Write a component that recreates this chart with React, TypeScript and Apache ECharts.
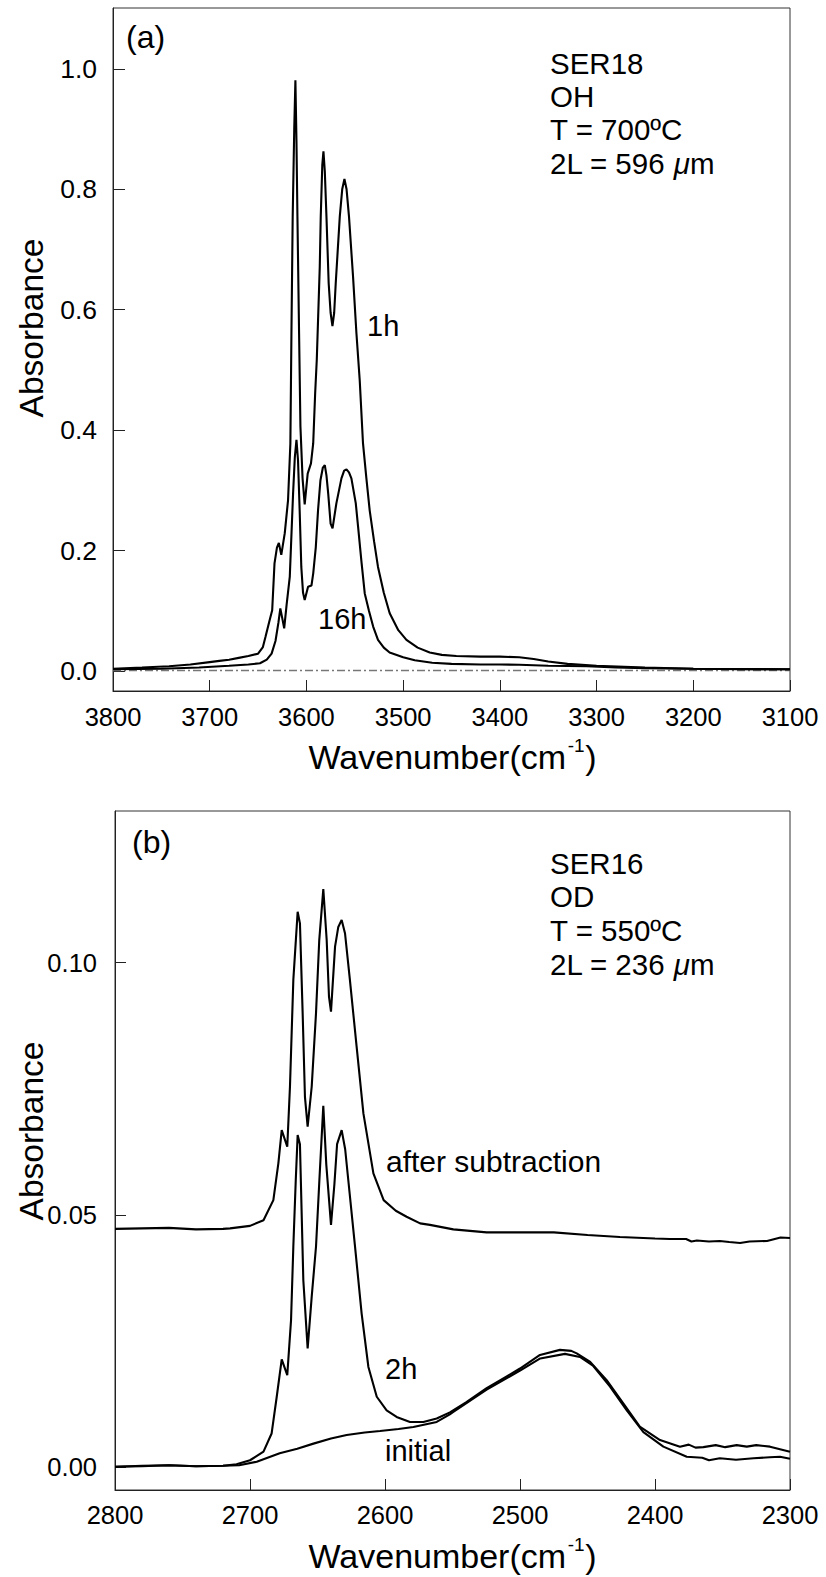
import React, { useEffect, useRef } from "react";
import * as echarts from "echarts";

const FONT = "'Liberation Sans', Arial, Helvetica, sans-serif";

// ---------- Panel (a): OH region ----------
const ohYTicks = [0, 0.2, 0.4, 0.6, 0.8, 1.0];

const oh1h: [number, number][] = [
  [3800, 0.004], [3770, 0.006], [3742, 0.008], [3720, 0.011], [3700, 0.015],
  [3690, 0.017], [3680, 0.019], [3670, 0.022], [3660, 0.025], [3650, 0.029],
  [3645, 0.040], [3642.3, 0.057], [3638, 0.085], [3635.4, 0.101], [3633, 0.179],
  [3630.5, 0.205], [3628.5, 0.213], [3626, 0.193], [3622.4, 0.229], [3619, 0.284],
  [3616.6, 0.378], [3615.5, 0.561], [3614.2, 0.755], [3612.6, 0.900], [3611.4, 0.981],
  [3610.3, 0.880], [3609.3, 0.755], [3607.6, 0.561], [3606.2, 0.406], [3604, 0.320],
  [3601.8, 0.277], [3598.7, 0.328], [3595.3, 0.345], [3593, 0.378], [3591, 0.460],
  [3589.3, 0.517], [3586.2, 0.672], [3585.2, 0.755], [3583.6, 0.840], [3582.4, 0.863],
  [3581, 0.830], [3579.3, 0.755], [3577, 0.644], [3575, 0.595], [3573.1, 0.573],
  [3571.3, 0.595], [3569.7, 0.644], [3565.5, 0.755], [3563, 0.800], [3560.7, 0.817],
  [3558.5, 0.800], [3556, 0.755], [3551.8, 0.655], [3548.3, 0.561], [3544.9, 0.483],
  [3541.5, 0.378], [3538, 0.320], [3534.6, 0.267], [3530, 0.215], [3526, 0.173],
  [3520, 0.130], [3513.9, 0.096], [3505, 0.068], [3496.6, 0.052], [3485, 0.039],
  [3472.5, 0.031], [3460, 0.027], [3445, 0.025], [3420, 0.024], [3400, 0.024],
  [3380, 0.023], [3365, 0.020], [3350, 0.016], [3330, 0.012], [3300, 0.009],
  [3250, 0.006], [3200, 0.004], [3150, 0.003], [3100, 0.003],
];

const oh16h: [number, number][] = [
  [3800, 0.003], [3750, 0.004], [3711, 0.006], [3680, 0.009], [3660, 0.011],
  [3648, 0.013], [3641, 0.019], [3636, 0.029], [3632, 0.050], [3629, 0.080],
  [3627, 0.104], [3625, 0.088], [3623, 0.071], [3620.5, 0.110], [3617.2, 0.157],
  [3613.8, 0.295], [3612, 0.355], [3610.3, 0.384], [3608.7, 0.350], [3607, 0.267],
  [3605.3, 0.173], [3603.5, 0.130], [3601.8, 0.118], [3598.3, 0.140], [3594.8, 0.142],
  [3593, 0.162], [3590.3, 0.206], [3588, 0.267], [3585.5, 0.317], [3583, 0.338],
  [3581, 0.342], [3579.3, 0.325], [3577.5, 0.295], [3575, 0.245], [3573, 0.237],
  [3569, 0.279], [3563.8, 0.320], [3561, 0.333], [3558.6, 0.335], [3556, 0.330],
  [3553.5, 0.320], [3549, 0.279], [3546.6, 0.240], [3543, 0.180], [3539.7, 0.129],
  [3535.3, 0.100], [3531, 0.074], [3526, 0.052], [3520, 0.039], [3514, 0.031],
  [3500, 0.023], [3488, 0.018], [3470, 0.014], [3450, 0.012], [3420, 0.011],
  [3400, 0.011], [3380, 0.0105], [3350, 0.009], [3310, 0.008], [3280, 0.006],
  [3250, 0.005], [3200, 0.004], [3100, 0.003],
];

const ohBase: [number, number][] = [
  [3800, 0.001], [3600, 0.001], [3400, 0.001], [3200, 0.001], [3100, 0.001],
];

// ---------- Panel (b): OD region ----------
const odYTicks = [0, 0.05, 0.1];

const odAfter: [number, number][] = [
  [2800, 0.0472], [2780, 0.0473], [2760, 0.0474], [2740, 0.0471], [2720, 0.0472],
  [2714.8, 0.0473], [2700, 0.0478], [2690, 0.0489], [2682.7, 0.0529], [2679, 0.0602],
  [2676.5, 0.0668], [2672.4, 0.0635], [2670.4, 0.0754], [2667.9, 0.0966], [2664.7, 0.1101],
  [2663, 0.1078], [2661, 0.0900], [2659.3, 0.0734], [2657.3, 0.0675], [2654.3, 0.0754],
  [2651.1, 0.0900], [2648.7, 0.1045], [2645.7, 0.1146], [2643.2, 0.1045], [2641.5, 0.0933],
  [2640, 0.0903], [2637, 0.1032], [2634.6, 0.1071], [2632.1, 0.1085], [2629.6, 0.1058],
  [2626, 0.0966], [2621, 0.0833], [2616, 0.0701], [2608.6, 0.0582], [2601, 0.0529],
  [2592, 0.0508], [2584, 0.0496], [2574, 0.0483], [2566.7, 0.0480], [2549.4, 0.0471],
  [2524.7, 0.0465], [2500, 0.0465], [2475, 0.0465], [2450, 0.0460], [2426, 0.0456],
  [2400, 0.0453], [2389, 0.0452], [2377, 0.0452], [2373, 0.0447], [2369, 0.0449],
  [2360, 0.0447], [2352, 0.0448], [2345, 0.0446], [2337, 0.0444], [2330, 0.0447],
  [2317, 0.0448], [2307, 0.0455], [2300, 0.0454],
];

const od2h: [number, number][] = [
  [2800, 0.0000], [2780, 0.0002], [2760, 0.0003], [2740, 0.0001], [2720, 0.0002],
  [2710, 0.0005], [2700, 0.0013], [2690, 0.0030], [2684, 0.0066], [2680.2, 0.0139],
  [2676.5, 0.0213], [2672.4, 0.0182], [2669.6, 0.0291], [2667.9, 0.0437], [2666.1, 0.0569],
  [2664.7, 0.0658], [2663, 0.0640], [2660.5, 0.0370], [2657.3, 0.0235], [2654.3, 0.0337],
  [2651.1, 0.0437], [2648.6, 0.0569], [2645.7, 0.0716], [2643.5, 0.0600], [2640, 0.0480],
  [2637.5, 0.0560], [2635.5, 0.0640], [2632.1, 0.0668], [2629.5, 0.0630], [2627.2, 0.0569],
  [2622.2, 0.0437], [2617.3, 0.0304], [2612.3, 0.0198], [2606.1, 0.0139], [2598.8, 0.0112],
  [2591.4, 0.0099], [2581.5, 0.0089], [2571.6, 0.0089], [2561.7, 0.0096], [2551.9, 0.0108],
  [2540, 0.0128], [2524.7, 0.0156], [2512, 0.0176], [2500, 0.0195], [2485.2, 0.0222],
  [2470.4, 0.0232], [2462, 0.0230], [2458, 0.0225], [2448, 0.0208], [2435.8, 0.0172],
  [2423.5, 0.0126], [2411, 0.0079], [2396.3, 0.0053], [2381.5, 0.0040], [2375, 0.0044],
  [2370, 0.0038], [2364.2, 0.0039], [2355, 0.0043], [2348, 0.0039], [2339.5, 0.0043],
  [2332, 0.0040], [2325, 0.0043], [2314.8, 0.0040], [2300, 0.0030],
];

const odInit: [number, number][] = [
  [2800, 0.0000], [2780, 0.0001], [2760, 0.0003], [2740, 0.0001], [2720, 0.0002],
  [2708, 0.0003], [2695, 0.0010], [2678, 0.0027], [2665, 0.0036], [2653, 0.0046],
  [2640, 0.0056], [2628.4, 0.0063], [2615, 0.0068], [2603.7, 0.0071], [2590, 0.0075],
  [2579, 0.0079], [2561.7, 0.0089], [2552, 0.0104], [2549.4, 0.0109], [2524.7, 0.0153],
  [2500, 0.0191], [2485, 0.0215], [2466.7, 0.0224], [2455.6, 0.0218], [2445.7, 0.0200],
  [2433.3, 0.0159], [2420.9, 0.0112], [2408.6, 0.0069], [2393.8, 0.0040], [2376.5, 0.0020],
  [2365, 0.0018], [2360, 0.0013], [2352, 0.0017], [2340, 0.0014], [2327, 0.0017],
  [2315, 0.0019], [2307.4, 0.0020], [2300, 0.0016],
];

// ---------- Text ----------
const infoA = ["SER18", "OH", "T = 700ºC", "2L = 596 {i|μ}m"];
const infoB = ["SER16", "OD", "T = 550ºC", "2L = 236 {i|μ}m"];
const curveLabelsA = ["1h", "16h"];
const curveLabelsB = ["after subtraction", "2h", "initial"];
const yTitle = "Absorbance";
const xTitleMain = "Wavenumber(cm";
const xTitleSup = "-1";
const xTitleEnd = ")";

function txt(text: string, x: number, y: number, size: number, extra: any = {}) {
  const { style: extraStyle, ...rest } = extra;
  return {
    type: "text",
    x,
    y,
    silent: true,
    z: 10,
    ...rest,
    style: {
      text,
      fill: "#000",
      fontSize: size,
      fontFamily: FONT,
      align: "left",
      verticalAlign: "middle",
      rich: {
        i: { fontStyle: "italic", fontSize: size, fontFamily: FONT, fill: "#000" },
      },
      ...(extraStyle || {}),
    },
  };
}

function xTitle(cx: number, cy: number) {
  const fs = 34;
  const sfs = 19;
  const wMain = 7.612 * fs;
  const wSup = (0.333 + 0.556) * sfs;
  const wEnd = 0.333 * fs;
  const start = cx - (wMain + wSup + wEnd) / 2;
  return [
    txt(xTitleMain, start, cy, fs),
    txt(xTitleSup, start + wMain + 0.5, cy - 12, sfs),
    txt(xTitleEnd, start + wMain + wSup + 1, cy, fs),
  ];
}

function line(name: string, data: [number, number][], idx: number, extra: any = {}) {
  return {
    type: "line",
    name,
    data,
    xAxisIndex: idx,
    yAxisIndex: idx,
    symbol: "none",
    showSymbol: false,
    silent: true,
    z: 3,
    lineStyle: { color: "#000", width: 2.1 },
    ...extra,
  };
}

const axisCommonX = {
  type: "value",
  inverse: true,
  axisLine: { show: true, onZero: false, lineStyle: { color: "#222", width: 1 } },
  axisTick: { show: true, inside: true, length: 11, lineStyle: { color: "#222", width: 1 } },
  splitLine: { show: false },
  axisLabel: { fontSize: 25.5, color: "#000", fontFamily: FONT, margin: 13, formatter: (v: number) => String(v) },
};

function buildOption() {
  return {
    animation: false,
    backgroundColor: "#fff",
    grid: [
      { left: 113, top: 8, width: 677, height: 683, show: true, borderColor: "#333", borderWidth: 1, backgroundColor: "transparent" },
      { left: 115, top: 811, width: 675, height: 679, show: true, borderColor: "#333", borderWidth: 1, backgroundColor: "transparent" },
    ],
    xAxis: [
      { ...axisCommonX, gridIndex: 0, min: 3100, max: 3800, interval: 100 },
      { ...axisCommonX, gridIndex: 1, min: 2300, max: 2800, interval: 100, axisLabel: { ...axisCommonX.axisLabel, margin: 12 } },
    ],
    yAxis: [
      {
        type: "value",
        gridIndex: 0,
        min: -0.033,
        max: 1.101,
        axisLine: { show: true, onZero: false, lineStyle: { color: "#222", width: 1 } },
        axisTick: { show: true, inside: true, length: 12, customValues: ohYTicks, lineStyle: { color: "#222" } },
        axisLabel: { customValues: ohYTicks, formatter: (v: number) => v.toFixed(1), fontSize: 26.5, color: "#000", fontFamily: FONT, margin: 16 },
        splitLine: { show: false },
      },
      {
        type: "value",
        gridIndex: 1,
        min: -0.0046,
        max: 0.1301,
        axisLine: { show: true, onZero: false, lineStyle: { color: "#222", width: 1 } },
        axisTick: { show: true, inside: true, length: 11, customValues: odYTicks, lineStyle: { color: "#222" } },
        axisLabel: { customValues: odYTicks, formatter: (v: number) => v.toFixed(2), fontSize: 25.5, color: "#000", fontFamily: FONT, margin: 18 },
        splitLine: { show: false },
      },
    ],
    series: [
      line("initial OH", ohBase, 0, { lineStyle: { color: "#777", width: 1.5, type: [8, 3, 2, 3] }, z: 2 }),
      line("16h", oh16h, 0),
      line("1h", oh1h, 0),
      line("initial", odInit, 1),
      line("2h", od2h, 1),
      line("after subtraction", odAfter, 1),
    ],
    graphic: [
      // panel (a)
      txt("(a)", 126, 37, 32),
      txt(infoA[0], 550, 63, 29.5),
      txt(infoA[1], 550, 96, 29.5),
      txt(infoA[2], 550, 129.5, 29.5),
      txt(infoA[3], 550, 163, 29.5),
      txt(curveLabelsA[0], 367, 326, 29),
      txt(curveLabelsA[1], 318, 619, 29),
      txt(yTitle, 31, 328, 33.5, { rotation: Math.PI / 2, style: { align: "center" } }),
      ...xTitle(452, 757),
      // panel (b)
      txt("(b)", 132, 842, 32),
      txt(infoB[0], 550, 863, 29.5),
      txt(infoB[1], 550, 896.5, 29.5),
      txt(infoB[2], 550, 930, 29.5),
      txt(infoB[3], 550, 964, 29.5),
      txt(curveLabelsB[0], 386, 1161, 30),
      txt(curveLabelsB[1], 385, 1369, 29),
      txt(curveLabelsB[2], 385, 1451, 29),
      txt(yTitle, 31, 1131, 33.5, { rotation: Math.PI / 2, style: { align: "center" } }),
      ...xTitle(452, 1556),
    ],
  };
}

export default function App() {
  const ref = useRef<HTMLDivElement>(null);
  useEffect(() => {
    document.body.style.margin = "0";
    const chart = echarts.init(ref.current as HTMLDivElement, null, { renderer: "svg" });
    chart.setOption(buildOption() as any);
    return () => chart.dispose();
  }, []);
  return <div ref={ref} style={{ width: 826, height: 1577, background: "#fff" }} />;
}
